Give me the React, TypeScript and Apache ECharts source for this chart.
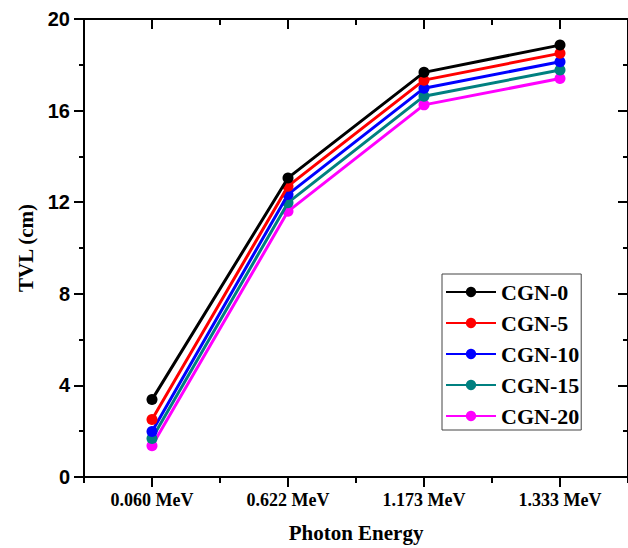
import React, { useEffect, useRef } from "react";
import * as echarts from "echarts";

const categories = ["0.060 MeV", "0.622 MeV", "1.173 MeV", "1.333 MeV"];
const seriesNames = ["CGN-0", "CGN-5", "CGN-10", "CGN-15", "CGN-20"];
const cgn0 = [3.38, 13.06, 17.67, 18.86];
const cgn5 = [2.51, 12.7, 17.33, 18.5];
const cgn10 = [1.99, 12.34, 16.98, 18.13];
const cgn15 = [1.68, 11.98, 16.63, 17.77];
const cgn20 = [1.36, 11.6, 16.25, 17.4];
const seriesValues = [cgn0, cgn5, cgn10, cgn15, cgn20];
const colors = ["#000000", "#ff0000", "#0000ff", "#008080", "#ff00ff"];

const SERIF = "'Liberation Serif', 'Times New Roman', serif";
const SANS = "'Liberation Sans', Arial, sans-serif";

export default function App() {
  const ref = useRef<HTMLDivElement>(null);
  useEffect(() => {
    if (!ref.current) return;
    const chart = echarts.init(ref.current, null, { renderer: "svg" });
    const axisLine = { show: true, lineStyle: { color: "#000", width: 2 } };
    const catBase = {
      type: "category" as const,
      data: categories,
      boundaryGap: true,
      axisLine,
      splitLine: { show: false },
    };
    chart.setOption({
      animation: false,
      backgroundColor: "#ffffff",
      grid: { left: 84, top: 19, width: 550, height: 461, containLabel: false },
      xAxis: [
        {
          ...catBase,
          position: "bottom",
          name: "Photon Energy",
          nameLocation: "middle",
          nameGap: 45,
          nameTextStyle: { fontFamily: SERIF, fontWeight: "bold", fontSize: 21, color: "#000" },
          axisTick: { show: true, alignWithLabel: true, inside: false, length: 10, lineStyle: { color: "#000", width: 2 } },
          axisLabel: { show: true, margin: 14, fontFamily: SERIF, fontWeight: "bold", fontSize: 18, color: "#000" },
        },
        {
          ...catBase,
          position: "bottom",
          axisTick: { show: true, alignWithLabel: false, inside: false, length: 6, lineStyle: { color: "#000", width: 2 } },
          axisLabel: { show: false },
        },
        {
          ...catBase,
          position: "top",
          axisTick: { show: true, alignWithLabel: true, inside: true, length: 10, lineStyle: { color: "#000", width: 2 } },
          axisLabel: { show: false },
        },
        {
          ...catBase,
          position: "top",
          axisTick: { show: true, alignWithLabel: false, inside: true, length: 6, lineStyle: { color: "#000", width: 2 } },
          axisLabel: { show: false },
        },
      ],
      yAxis: [
        {
          type: "value",
          position: "left",
          min: 0,
          max: 20,
          interval: 4,
          name: "TVL (cm)",
          nameLocation: "middle",
          nameGap: 46,
          nameTextStyle: { fontFamily: SERIF, fontWeight: "bold", fontSize: 21, color: "#000" },
          axisLine,
          axisTick: { show: true, inside: false, length: 10, lineStyle: { color: "#000", width: 2 } },
          minorTick: { show: true, splitNumber: 2, length: 5, lineStyle: { color: "#000", width: 2 } },
          axisLabel: { margin: 14, fontFamily: SANS, fontWeight: "bold", fontSize: 20, color: "#000" },
          splitLine: { show: false },
        },
        {
          type: "value",
          position: "right",
          min: 0,
          max: 20,
          interval: 4,
          axisLine,
          axisTick: { show: true, inside: true, length: 10, lineStyle: { color: "#000", width: 2 } },
          minorTick: { show: true, splitNumber: 2, length: 5, lineStyle: { color: "#000", width: 2 } },
          axisLabel: { show: false },
          splitLine: { show: false },
        },
      ],
      legend: {
        orient: "vertical",
        left: 442,
        top: 274,
        padding: [7, 2, 3, 3],
        itemGap: 9,
        itemWidth: 50,
        itemHeight: 13,
        borderColor: "#444",
        borderWidth: 1,
        backgroundColor: "#fff",
        data: seriesNames,
        textStyle: { fontFamily: SERIF, fontWeight: "bold", fontSize: 22, lineHeight: 22, color: "#000" },
      },
      series: seriesNames.map((name, i) => ({
        name,
        type: "line",
        xAxisIndex: 0,
        yAxisIndex: 0,
        data: seriesValues[i],
        symbol: "circle",
        symbolSize: 11,
        showSymbol: true,
        color: colors[i],
        lineStyle: { color: colors[i], width: 3 },
        itemStyle: { color: colors[i] },
        z: 10 - i,
      })),
    });
    return () => chart.dispose();
  }, []);
  return (
    <div
      ref={ref}
      style={{ position: "fixed", left: 0, top: 0, width: 628, height: 548, background: "#fff" }}
    />
  );
}
